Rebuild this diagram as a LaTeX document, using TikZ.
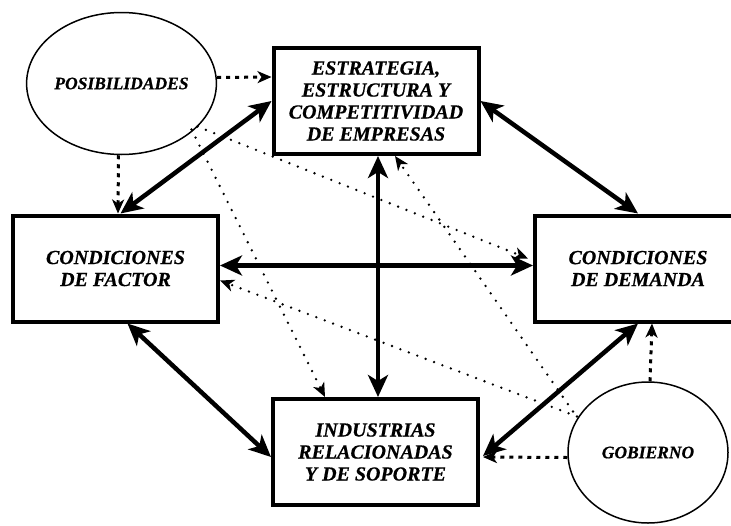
\documentclass[tikz,border=0pt]{standalone}
\usepackage{fontspec}
\setmainfont{Liberation Serif}[BoldItalicFeatures={FakeBold=0.6}]
\usetikzlibrary{calc,arrows.meta,shapes.geometric}
\begin{document}
\begin{tikzpicture}[x=1pt,y=-1pt,
caja/.style={draw,line width=4pt,minimum width=205pt,minimum height=106pt,inner sep=0pt,align=center,font=\fontsize{20}{22}\selectfont\bfseries\itshape},
burbuja/.style={draw,ellipse,line width=1.5pt,minimum width=161pt,minimum height=142pt,inner sep=0pt,font=\fontsize{17.5}{19}\selectfont\bfseries\itshape},
fuerte/.style={line width=4.5pt,{Stealth[length=22pt,width=20pt,inset=6pt]}-{Stealth[length=22pt,width=20pt,inset=6pt]}},
punteado/.style={line width=3pt,dash pattern=on 4pt off 5pt,-{Stealth[length=14pt,width=12pt,inset=4pt]}},
puntos/.style={line width=2.6pt,line cap=round,dash pattern=on 0pt off 9pt,-{Stealth[length=14pt,width=12pt,inset=4pt]}}]
\useasboundingbox (0,0) rectangle (731,525);
\node[caja] (estr) at (376,101) {ESTRATEGIA,\\ESTRUCTURA Y\\COMPETITIVIDAD\\DE EMPRESAS};
\node[caja] (fact) at (115.5,268.5) {CONDICIONES\\DE FACTOR};
\node[caja,minimum width=206pt] (dem) at (638,268.5) {CONDICIONES\\DE DEMANDA};
\node[caja] (ind) at (375.5,452) {INDUSTRIAS\\RELACIONADAS\\Y DE SOPORTE};
\node[burbuja] (pos) at (121.5,83.5) {POSIBILIDADES};
\node[burbuja,minimum width=160pt,minimum height=141pt] (gob) at (648,452.5) {GOBIERNO};
\draw[fuerte] ($(fact.north)+(5,0)$) -- (estr.west);
\draw[fuerte] (estr.east) -- (dem.north);
\draw[fuerte] ($(estr.south)+(2,0)$) -- ($(ind.north)+(2.5,0)$);
\draw[fuerte] ($(fact.east)+(0,-3)$) -- ($(dem.west)+(0,-3)$);
\draw[fuerte] ($(fact.south)+(12,0)$) -- ($(ind.west)+(0,5)$);
\draw[fuerte] (dem.south) -- ($(ind.east)+(3,4)$);
\draw[punteado] ($(pos.east)+(0,-6)$) -- ($(estr.west)+(0,-24)$);
\draw[punteado] ($(pos.south)+(-3,0)$) -- ($(fact.north)+(2.5,0)$);
\draw[puntos] ($(pos.center)+(70,46)$) -- ($(ind.north west)+(54,0)$);
\draw[puntos] ($(pos.center)+(76,43)$) -- ($(dem.west)+(-5,-10)$);
\draw[puntos] ($(gob.center)+(-71,-36)$) -- ($(fact.east)+(0,12)$);
\draw[puntos] ($(gob.center)+(-75,-41)$) -- ($(estr.south)+(19,0)$);
\draw[punteado] ($(gob.north)+(2,0)$) -- ($(dem.south)+(14,0)$);
\draw[punteado] ($(gob.west)+(0,5)$) -- ($(ind.east)+(3,5)$);
\end{tikzpicture}
\end{document}
